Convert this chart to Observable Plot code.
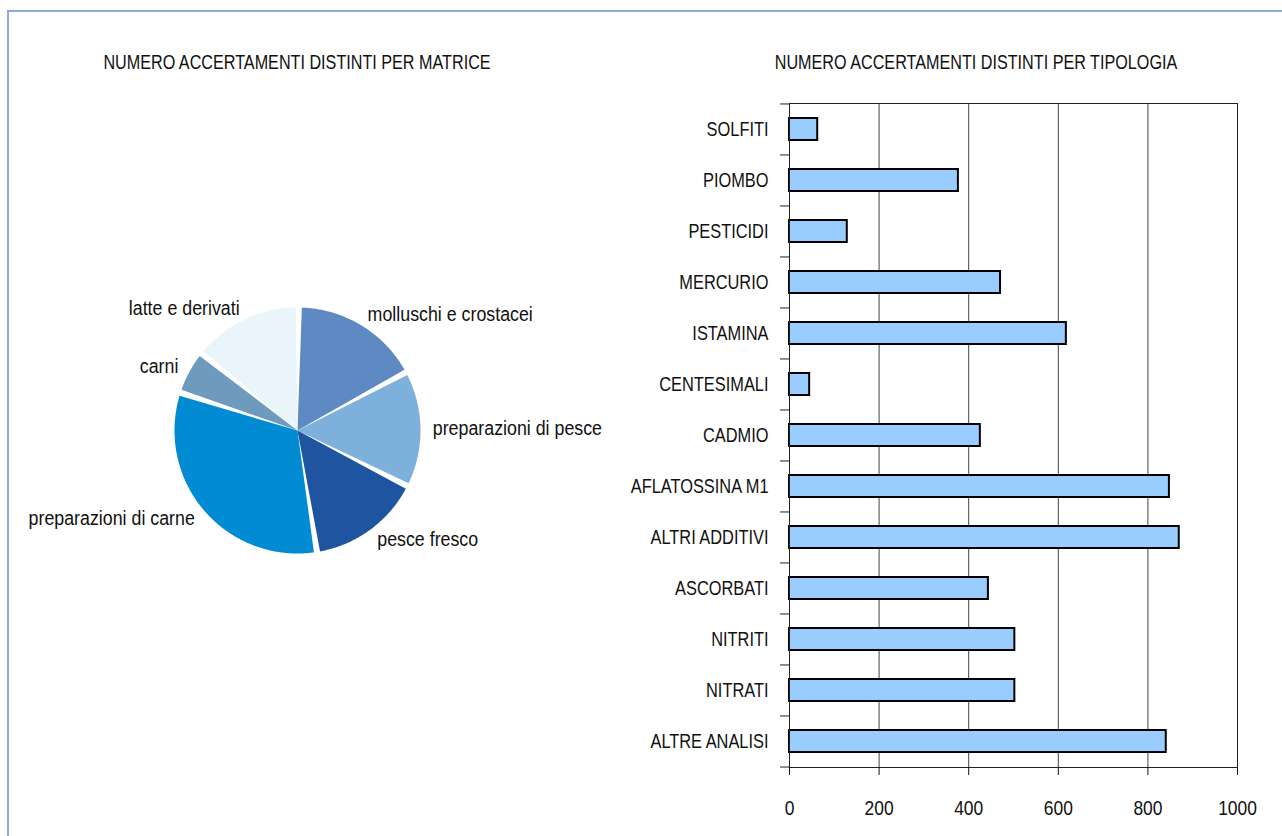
<!DOCTYPE html>
<html>
<head>
<meta charset="utf-8">
<script src="https://cdn.jsdelivr.net/npm/d3@7"></script>
<script src="https://cdn.jsdelivr.net/npm/@observablehq/plot@0.6"></script>
<style>
  body { margin: 0; background: #fff; }
  #wrap { position: relative; width: 1282px; height: 836px; overflow: hidden; background: #fff;
          font-family: "Liberation Sans", Arial, sans-serif; color: #111; }
  #frame { position: absolute; left: 7px; top: 10px; width: 1400px; height: 1000px;
           border-left: 2px solid #8eaadc; border-top: 2px solid #8eaadc; }
  .title { position: absolute; top: 50px; line-height: 24px; font-size: 21px; white-space: nowrap;
           transform: translateX(-50%) scaleX(0.77); }
  #pie { position: absolute; left: 0; top: 180px; }
  #bars { position: absolute; left: 620px; top: 80px; }
</style>
</head>
<body>
<div id="wrap">
  <div id="frame"></div>
  <div class="title" style="left:296.5px">NUMERO ACCERTAMENTI DISTINTI PER MATRICE</div>
  <div class="title" style="left:975.5px">NUMERO ACCERTAMENTI DISTINTI PER TIPOLOGIA</div>
  <div id="pie"></div>
  <div id="bars"></div>
</div>
<script>
// ---- Pie data (shares, clockwise from 12 o'clock) ----
const pieLabels = ["molluschi e crostacei", "preparazioni di pesce", "pesce fresco",
                   "preparazioni di carne", "carni", "latte e derivati"];
const pieValues = [17.0, 15.3, 15.0, 32.5, 5.8, 14.4];
const pieColors = ["#5f89c2", "#7db1dc", "#1f55a0", "#008bd2", "#6e9bbd", "#eaf4fb"];

// ---- Bar data ----
const barCategories = ["SOLFITI", "PIOMBO", "PESTICIDI", "MERCURIO", "ISTAMINA", "CENTESIMALI",
                       "CADMIO", "AFLATOSSINA M1", "ALTRI ADDITIVI", "ASCORBATI", "NITRITI",
                       "NITRATI", "ALTRE ANALISI"];
const barValues = [63, 377, 129, 471, 618, 45, 426, 848, 870, 444, 503, 503, 841];
const xTicks = [0, 200, 400, 600, 800, 1000];

const FONT = '"Liberation Sans", Arial, sans-serif';

// condense text horizontally to mimic the narrow reference typeface
function condense(svg) {
  svg.querySelectorAll("text").forEach(el => {
    const s = el.textContent;
    const k = /[a-z]/.test(s) ? 0.89 : /^[0-9]+$/.test(s) ? 0.87 : 0.78;
    const L = el.getComputedTextLength();
    if (L > 0) {
      el.setAttribute("textLength", (L * k).toFixed(2));
      el.setAttribute("lengthAdjust", "spacingAndGlyphs");
    }
  });
}

// ---- Pie chart ----
{
  const total = d3.sum(pieValues);
  const start = 0.6 * Math.PI / 180;
  const pad = 0.025;
  const pts = [];
  const labs = [];
  let acc = 0;
  pieLabels.forEach((name, i) => {
    const a0 = start + acc / total * 2 * Math.PI;
    acc += pieValues[i];
    const a1 = start + acc / total * 2 * Math.PI;
    const b0 = a0 + pad, b1 = a1 - pad;
    pts.push({name, x: 0, y: 0});
    const n = Math.max(2, Math.ceil((b1 - b0) / 0.01));
    for (let k = 0; k <= n; k++) {
      const a = b0 + (b1 - b0) * k / n;
      pts.push({name, x: Math.sin(a), y: Math.cos(a)});
    }
    const m = (a0 + a1) / 2;
    labs.push({name, x: 1.1 * Math.sin(m), y: 1.1 * Math.cos(m), right: Math.sin(m) >= 0});
  });
  const cx = 297, cy = 250, R = 123;
  const pie = Plot.plot({
    width: 640, height: 500, margin: 0,
    x: {type: "linear", domain: [-1, 1], range: [cx - R, cx + R], axis: null},
    y: {type: "linear", domain: [-1, 1], range: [cy + R, cy - R], axis: null},
    color: {domain: pieLabels, range: pieColors},
    style: {fontFamily: FONT, fontSize: "20px", background: "transparent", color: "#111", overflow: "visible"},
    marks: [
      Plot.line(pts, {x: "x", y: "y", z: "name", fill: "name", stroke: "none", curve: "linear-closed"}),
      Plot.text(labs.filter(d => d.right), {x: "x", y: "y", text: "name", textAnchor: "start", fill: "#111"}),
      Plot.text(labs.filter(d => !d.right), {x: "x", y: "y", text: "name", textAnchor: "end", fill: "#111"})
    ]
  });
  document.getElementById("pie").append(pie);
  condense(pie);
}

// ---- Bar chart ----
{
  const W = 660, H = 740, mL = 169, mT = 23, mR = 43, mB = 53;
  const bw = (H - mT - mB) / barCategories.length;
  const data = barCategories.map((c, i) => ({cat: c, value: barValues[i]}));
  const bars = Plot.plot({
    width: W, height: H, marginLeft: mL, marginTop: mT, marginRight: mR, marginBottom: mB,
    x: {domain: [0, 1000]},
    y: {domain: barCategories, paddingInner: 0.57, paddingOuter: 0.285},
    style: {fontFamily: FONT, fontSize: "21px", background: "transparent", color: "#111", overflow: "visible"},
    marks: [
      Plot.ruleX(xTicks.slice(1), {stroke: "#444", strokeWidth: 1}),
      Plot.barX(data, {x: "value", y: "cat", fill: "#99ccff", stroke: "#000", strokeWidth: 2}),
      Plot.frame({stroke: "#222"}),
      Plot.ruleY(barCategories, {y: d => d, x1: -20, x2: 0, dy: -bw / 2, stroke: "#222"}),
      Plot.ruleY(barCategories.slice(-1), {y: d => d, x1: -20, x2: 0, dy: bw / 2, stroke: "#222"}),
      Plot.axisY({tickSize: 0, tickPadding: 21, fontSize: 21, label: null}),
      Plot.axisX({ticks: xTicks, tickSize: 8, tickPadding: 25, fontSize: 20, tickFormat: d => String(d), label: null})
    ]
  });
  document.getElementById("bars").append(bars);
  condense(bars);
}
</script>
</body>
</html>
